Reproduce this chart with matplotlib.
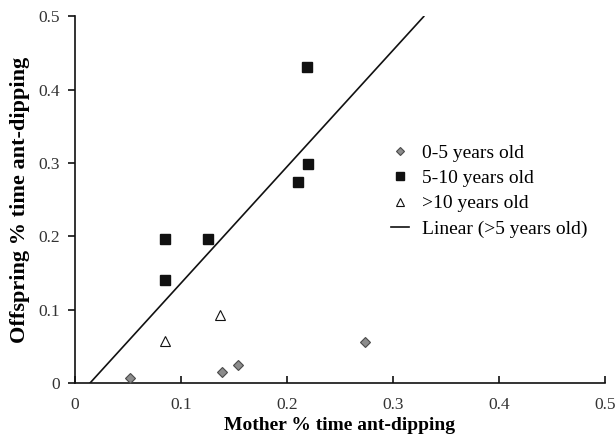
import matplotlib
matplotlib.use("Agg")
import matplotlib.pyplot as plt

plt.rcParams['font.family'] = ['Liberation Serif', 'DejaVu Serif']

# Data
young_x = [0.052, 0.139, 0.154, 0.274]
young_y = [0.007, 0.015, 0.025, 0.056]
mid_x = [0.085, 0.125, 0.085, 0.219, 0.220, 0.210]
mid_y = [0.197, 0.196, 0.140, 0.431, 0.299, 0.274]
old_x = [0.085, 0.137]
old_y = [0.057, 0.093]
line_x = [0.0142, 0.329]
line_y = [0.0, 0.5]

labels = ['0-5 years old', '5-10 years old', '>10 years old', 'Linear (>5 years old)']
xticks = [0, 0.1, 0.2, 0.3, 0.4, 0.5]
yticks = [0, 0.1, 0.2, 0.3, 0.4, 0.5]
xtick_labels = ['0', '0.1', '0.2', '0.3', '0.4', '0.5']
ytick_labels = ['0', '0.1', '0.2', '0.3', '0.4', '0.5']

fig = plt.figure(figsize=(6.16, 4.4), dpi=100)
ax = fig.add_axes([75 / 616, 57 / 440, 530 / 616, 366.5 / 440])

ax.plot(young_x, young_y, linestyle='none', marker='D', markersize=5.5,
        markerfacecolor='#8c8c8c', markeredgecolor='#4a4a4a', markeredgewidth=0.8,
        label=labels[0], clip_on=False, zorder=3)
ax.plot(mid_x, mid_y, linestyle='none', marker='s', markersize=7.5,
        markerfacecolor='#111111', markeredgecolor='#111111',
        label=labels[1], clip_on=False, zorder=3)
ax.plot(old_x, old_y, linestyle='none', marker='^', markersize=7.5,
        markerfacecolor='white', markeredgecolor='#111111', markeredgewidth=0.8,
        label=labels[2], clip_on=False, zorder=3)
ax.plot(line_x, line_y, color='#111111', linewidth=1.2, label=labels[3], zorder=2)

ax.set_xlim(0, 0.5)
ax.set_ylim(0, 0.5)
ax.set_xticks(xticks)
ax.set_xticklabels(xtick_labels)
ax.set_yticks(yticks)
ax.set_yticklabels(ytick_labels)
ax.spines['top'].set_visible(False)
ax.spines['right'].set_visible(False)
for s in ('left', 'bottom'):
    ax.spines[s].set_linewidth(1.2)
    ax.spines[s].set_color('#111111')
ax.tick_params(axis='x', direction='in', length=5, width=1.2, labelsize=12.5, pad=10, colors='#111111')
ax.tick_params(axis='y', direction='out', length=5, width=1.2, labelsize=12.5, pad=6, colors='#111111')
ax.tick_params(axis='both', labelcolor='#333333')

ax.set_xlabel('Mother % time ant-dipping', fontsize=14, fontweight='bold', labelpad=3)
ax.set_ylabel('Offspring % time ant-dipping', fontsize=16, fontweight='bold', labelpad=6)

leg = ax.legend(loc='center left', bbox_to_anchor=(391 / 616, (440 - 191) / 440),
                bbox_transform=fig.transFigure, frameon=False, borderpad=0, borderaxespad=0,
                fontsize=14, markerscale=0.7, handlelength=0.93, handletextpad=0.65,
                labelspacing=0.4)

fig.savefig('out.png', dpi=100)
